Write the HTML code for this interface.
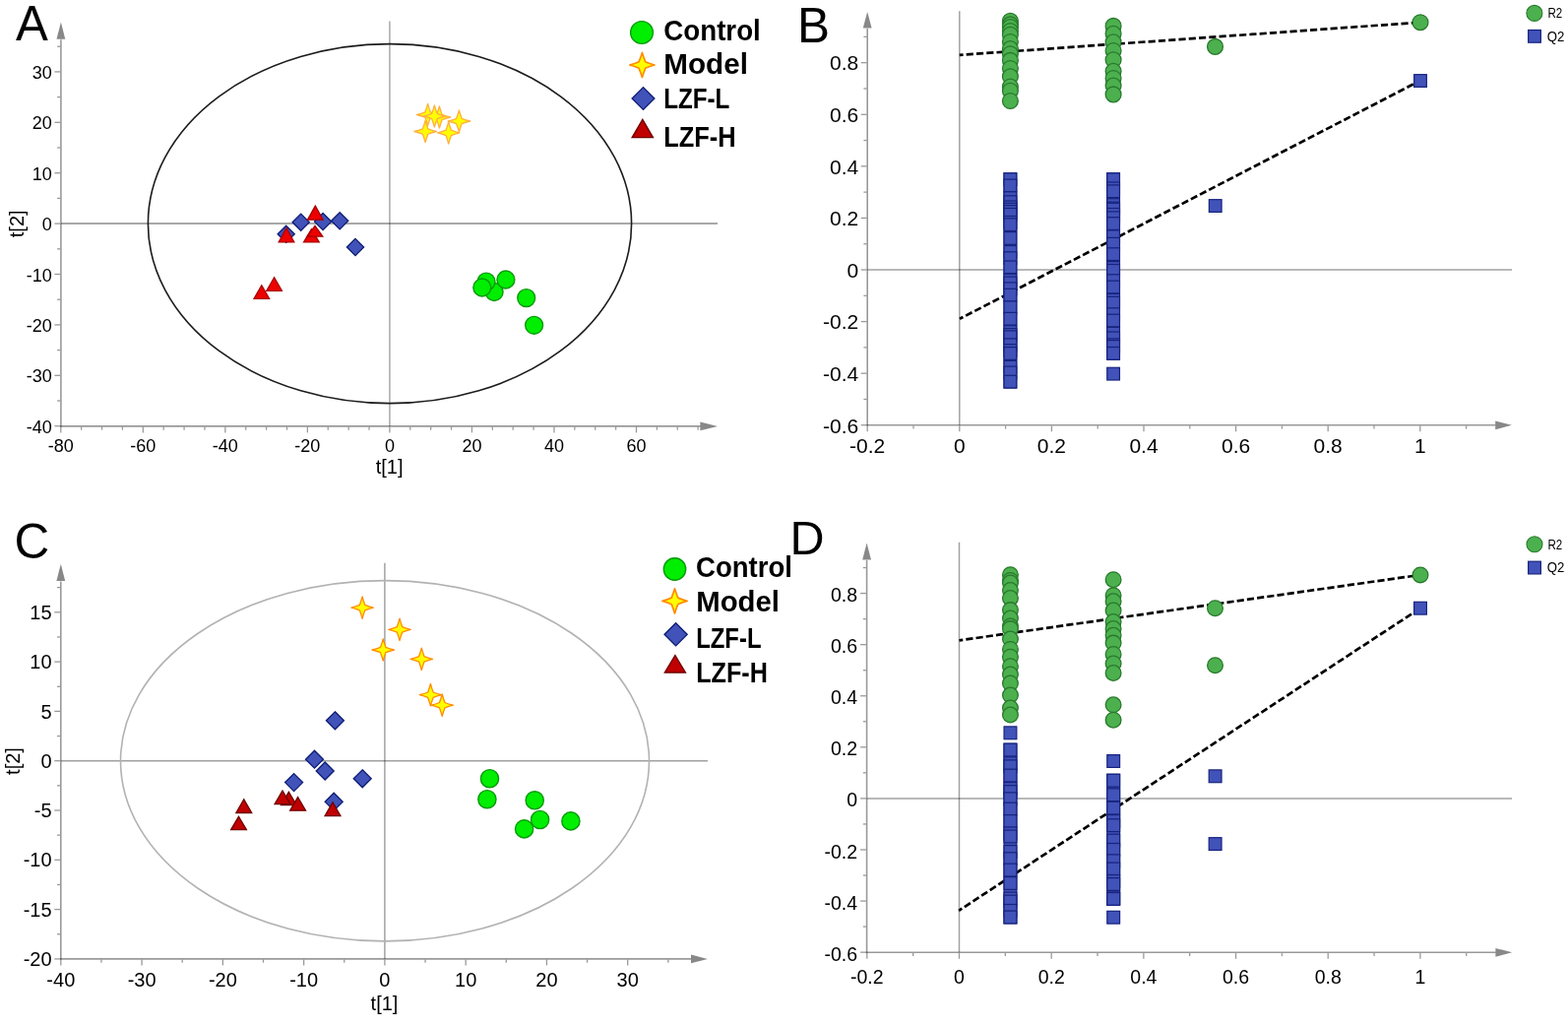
<!DOCTYPE html><html><head><meta charset="utf-8"><title>PCA and permutation plots</title>
<style>html,body{margin:0;padding:0;background:#fff;}svg{display:block;}text{font-family:'Liberation Sans', Arial, sans-serif;}</style></head><body>
<svg width="1593" height="1042" viewBox="0 0 1593 1042">
<rect width="1593" height="1042" fill="#fff"/>
<line x1="395.9" y1="21.5" x2="395.9" y2="432.9" stroke="#000" stroke-opacity="0.34" stroke-width="1.5" />
<line x1="61.9" y1="227.1" x2="729" y2="227.1" stroke="#000" stroke-opacity="0.45" stroke-width="1.5" />
<line x1="61.9" y1="433.7" x2="61.9" y2="40.3" stroke="#000" stroke-opacity="0.4" stroke-width="1.6" />
<line x1="61.1" y1="432.9" x2="711.9" y2="432.9" stroke="#000" stroke-opacity="0.4" stroke-width="1.6" />
<polygon points="57.5,39.8 66.3,39.8 61.9,22.5" fill="#888"/>
<polygon points="711.4,428.5 711.4,437.3 729,432.9" fill="#888"/>
<line x1="55.4" y1="432.7" x2="61.1" y2="432.7" stroke="#000" stroke-opacity="0.4" stroke-width="1.3" />
<line x1="55.4" y1="381.3" x2="61.1" y2="381.3" stroke="#000" stroke-opacity="0.4" stroke-width="1.3" />
<line x1="55.4" y1="329.9" x2="61.1" y2="329.9" stroke="#000" stroke-opacity="0.4" stroke-width="1.3" />
<line x1="55.4" y1="278.5" x2="61.1" y2="278.5" stroke="#000" stroke-opacity="0.4" stroke-width="1.3" />
<line x1="55.4" y1="227.1" x2="61.1" y2="227.1" stroke="#000" stroke-opacity="0.4" stroke-width="1.3" />
<line x1="55.4" y1="175.7" x2="61.1" y2="175.7" stroke="#000" stroke-opacity="0.4" stroke-width="1.3" />
<line x1="55.4" y1="124.3" x2="61.1" y2="124.3" stroke="#000" stroke-opacity="0.4" stroke-width="1.3" />
<line x1="55.4" y1="72.9" x2="61.1" y2="72.9" stroke="#000" stroke-opacity="0.4" stroke-width="1.3" />
<line x1="58.1" y1="407" x2="61.1" y2="407" stroke="#000" stroke-opacity="0.4" stroke-width="1.3" />
<line x1="58.1" y1="355.6" x2="61.1" y2="355.6" stroke="#000" stroke-opacity="0.4" stroke-width="1.3" />
<line x1="58.1" y1="304.2" x2="61.1" y2="304.2" stroke="#000" stroke-opacity="0.4" stroke-width="1.3" />
<line x1="58.1" y1="252.8" x2="61.1" y2="252.8" stroke="#000" stroke-opacity="0.4" stroke-width="1.3" />
<line x1="58.1" y1="201.4" x2="61.1" y2="201.4" stroke="#000" stroke-opacity="0.4" stroke-width="1.3" />
<line x1="58.1" y1="150" x2="61.1" y2="150" stroke="#000" stroke-opacity="0.4" stroke-width="1.3" />
<line x1="58.1" y1="98.6" x2="61.1" y2="98.6" stroke="#000" stroke-opacity="0.4" stroke-width="1.3" />
<line x1="58.1" y1="47.2" x2="61.1" y2="47.2" stroke="#000" stroke-opacity="0.4" stroke-width="1.3" />
<line x1="61.79" y1="433.7" x2="61.79" y2="439.4" stroke="#000" stroke-opacity="0.4" stroke-width="1.3" />
<line x1="145.32" y1="433.7" x2="145.32" y2="439.4" stroke="#000" stroke-opacity="0.4" stroke-width="1.3" />
<line x1="228.84" y1="433.7" x2="228.84" y2="439.4" stroke="#000" stroke-opacity="0.4" stroke-width="1.3" />
<line x1="312.37" y1="433.7" x2="312.37" y2="439.4" stroke="#000" stroke-opacity="0.4" stroke-width="1.3" />
<line x1="395.9" y1="433.7" x2="395.9" y2="439.4" stroke="#000" stroke-opacity="0.4" stroke-width="1.3" />
<line x1="479.43" y1="433.7" x2="479.43" y2="439.4" stroke="#000" stroke-opacity="0.4" stroke-width="1.3" />
<line x1="562.96" y1="433.7" x2="562.96" y2="439.4" stroke="#000" stroke-opacity="0.4" stroke-width="1.3" />
<line x1="646.48" y1="433.7" x2="646.48" y2="439.4" stroke="#000" stroke-opacity="0.4" stroke-width="1.3" />
<line x1="82.67" y1="433.7" x2="82.67" y2="436.7" stroke="#000" stroke-opacity="0.4" stroke-width="1.3" />
<line x1="103.55" y1="433.7" x2="103.55" y2="436.7" stroke="#000" stroke-opacity="0.4" stroke-width="1.3" />
<line x1="124.43" y1="433.7" x2="124.43" y2="436.7" stroke="#000" stroke-opacity="0.4" stroke-width="1.3" />
<line x1="166.2" y1="433.7" x2="166.2" y2="436.7" stroke="#000" stroke-opacity="0.4" stroke-width="1.3" />
<line x1="187.08" y1="433.7" x2="187.08" y2="436.7" stroke="#000" stroke-opacity="0.4" stroke-width="1.3" />
<line x1="207.96" y1="433.7" x2="207.96" y2="436.7" stroke="#000" stroke-opacity="0.4" stroke-width="1.3" />
<line x1="249.73" y1="433.7" x2="249.73" y2="436.7" stroke="#000" stroke-opacity="0.4" stroke-width="1.3" />
<line x1="270.61" y1="433.7" x2="270.61" y2="436.7" stroke="#000" stroke-opacity="0.4" stroke-width="1.3" />
<line x1="291.49" y1="433.7" x2="291.49" y2="436.7" stroke="#000" stroke-opacity="0.4" stroke-width="1.3" />
<line x1="333.25" y1="433.7" x2="333.25" y2="436.7" stroke="#000" stroke-opacity="0.4" stroke-width="1.3" />
<line x1="354.14" y1="433.7" x2="354.14" y2="436.7" stroke="#000" stroke-opacity="0.4" stroke-width="1.3" />
<line x1="375.02" y1="433.7" x2="375.02" y2="436.7" stroke="#000" stroke-opacity="0.4" stroke-width="1.3" />
<line x1="416.78" y1="433.7" x2="416.78" y2="436.7" stroke="#000" stroke-opacity="0.4" stroke-width="1.3" />
<line x1="437.66" y1="433.7" x2="437.66" y2="436.7" stroke="#000" stroke-opacity="0.4" stroke-width="1.3" />
<line x1="458.55" y1="433.7" x2="458.55" y2="436.7" stroke="#000" stroke-opacity="0.4" stroke-width="1.3" />
<line x1="500.31" y1="433.7" x2="500.31" y2="436.7" stroke="#000" stroke-opacity="0.4" stroke-width="1.3" />
<line x1="521.19" y1="433.7" x2="521.19" y2="436.7" stroke="#000" stroke-opacity="0.4" stroke-width="1.3" />
<line x1="542.07" y1="433.7" x2="542.07" y2="436.7" stroke="#000" stroke-opacity="0.4" stroke-width="1.3" />
<line x1="583.84" y1="433.7" x2="583.84" y2="436.7" stroke="#000" stroke-opacity="0.4" stroke-width="1.3" />
<line x1="604.72" y1="433.7" x2="604.72" y2="436.7" stroke="#000" stroke-opacity="0.4" stroke-width="1.3" />
<line x1="625.6" y1="433.7" x2="625.6" y2="436.7" stroke="#000" stroke-opacity="0.4" stroke-width="1.3" />
<line x1="667.37" y1="433.7" x2="667.37" y2="436.7" stroke="#000" stroke-opacity="0.4" stroke-width="1.3" />
<line x1="688.25" y1="433.7" x2="688.25" y2="436.7" stroke="#000" stroke-opacity="0.4" stroke-width="1.3" />
<line x1="709.13" y1="433.7" x2="709.13" y2="436.7" stroke="#000" stroke-opacity="0.4" stroke-width="1.3" />
<text x="52.8" y="439.79" font-size="18" text-anchor="end" font-weight="normal" fill="#000" >-40</text>
<text x="52.8" y="388.39" font-size="18" text-anchor="end" font-weight="normal" fill="#000" >-30</text>
<text x="52.8" y="336.99" font-size="18" text-anchor="end" font-weight="normal" fill="#000" >-20</text>
<text x="52.8" y="285.59" font-size="18" text-anchor="end" font-weight="normal" fill="#000" >-10</text>
<text x="52.8" y="234.19" font-size="18" text-anchor="end" font-weight="normal" fill="#000" >0</text>
<text x="52.8" y="182.79" font-size="18" text-anchor="end" font-weight="normal" fill="#000" >10</text>
<text x="52.8" y="131.39" font-size="18" text-anchor="end" font-weight="normal" fill="#000" >20</text>
<text x="52.8" y="79.99" font-size="18" text-anchor="end" font-weight="normal" fill="#000" >30</text>
<text x="61.79" y="458.6" font-size="18" text-anchor="middle" font-weight="normal" fill="#000" >-80</text>
<text x="145.32" y="458.6" font-size="18" text-anchor="middle" font-weight="normal" fill="#000" >-60</text>
<text x="228.84" y="458.6" font-size="18" text-anchor="middle" font-weight="normal" fill="#000" >-40</text>
<text x="312.37" y="458.6" font-size="18" text-anchor="middle" font-weight="normal" fill="#000" >-20</text>
<text x="395.9" y="458.6" font-size="18" text-anchor="middle" font-weight="normal" fill="#000" >0</text>
<text x="479.43" y="458.6" font-size="18" text-anchor="middle" font-weight="normal" fill="#000" >20</text>
<text x="562.96" y="458.6" font-size="18" text-anchor="middle" font-weight="normal" fill="#000" >40</text>
<text x="646.48" y="458.6" font-size="18" text-anchor="middle" font-weight="normal" fill="#000" >60</text>
<ellipse cx="396" cy="227.1" rx="245.6" ry="182.5" fill="none" stroke="#1c1c1c" stroke-width="1.6"/>
<text x="16.1" y="40.5" font-size="49.2" text-anchor="start" font-weight="normal" fill="#000" >A</text>
<text x="395.6" y="480.9" font-size="20" text-anchor="middle" font-weight="normal" fill="#000" >t[1]</text>
<text x="0" y="0" font-size="20" text-anchor="middle" transform="translate(24.1,227.3) rotate(-90)">t[2]</text>
<polygon points="290.7,229.2 299.3,237.8 290.7,246.4 282.1,237.8" fill="#4152B8" stroke="#0E1C74" stroke-width="1.3"/>
<polygon points="305.7,217.1 314.3,225.7 305.7,234.3 297.1,225.7" fill="#4152B8" stroke="#0E1C74" stroke-width="1.3"/>
<polygon points="328.1,216.5 336.7,225.1 328.1,233.7 319.5,225.1" fill="#4152B8" stroke="#0E1C74" stroke-width="1.3"/>
<polygon points="345.2,215.7 353.8,224.3 345.2,232.9 336.6,224.3" fill="#4152B8" stroke="#0E1C74" stroke-width="1.3"/>
<polygon points="361,242.4 369.6,251 361,259.6 352.4,251" fill="#4152B8" stroke="#0E1C74" stroke-width="1.3"/>
<polygon points="320.3,209.1 328.1,223.2 312.5,223.2" fill="#EE0000" stroke="#A80000" stroke-width="1.3" stroke-linejoin="miter"/>
<polygon points="291,231.6 298.8,245.9 283.2,245.9" fill="#EE0000" stroke="#A80000" stroke-width="1.3" stroke-linejoin="miter"/>
<polygon points="316.4,232.7 324.2,245.9 308.6,245.9" fill="#EE0000" stroke="#A80000" stroke-width="1.3" stroke-linejoin="miter"/>
<polygon points="320,229.3 327.8,240.1 312.2,240.1" fill="#EE0000" stroke="#A80000" stroke-width="1.3" stroke-linejoin="miter"/>
<polygon points="278.6,281.7 286.4,295.4 270.8,295.4" fill="#EE0000" stroke="#A80000" stroke-width="1.3" stroke-linejoin="miter"/>
<polygon points="265.8,289.7 273.6,303.4 258,303.4" fill="#EE0000" stroke="#A80000" stroke-width="1.3" stroke-linejoin="miter"/>
<path d="M434.6,105.3 Q435.85,110.04 437.3,113.8 Q441.06,115.25 445.8,116.5 Q441.06,117.75 437.3,119.2 Q435.85,122.96 434.6,127.7 Q433.35,122.96 431.9,119.2 Q428.14,117.75 423.4,116.5 Q428.14,115.25 431.9,113.8 Q433.35,110.04 434.6,105.3Z" fill="#FFFF00" stroke="#FFB040" stroke-width="1.3" stroke-linejoin="round"/>
<path d="M446.4,107.8 Q447.65,112.54 449.1,116.3 Q452.86,117.75 457.6,119 Q452.86,120.25 449.1,121.7 Q447.65,125.46 446.4,130.2 Q445.15,125.46 443.7,121.7 Q439.94,120.25 435.2,119 Q439.94,117.75 443.7,116.3 Q445.15,112.54 446.4,107.8Z" fill="#FFFF00" stroke="#FFB040" stroke-width="1.3" stroke-linejoin="round"/>
<path d="M441.4,106.8 Q442.65,111.54 444.1,115.3 Q447.86,116.75 452.6,118 Q447.86,119.25 444.1,120.7 Q442.65,124.46 441.4,129.2 Q440.15,124.46 438.7,120.7 Q434.94,119.25 430.2,118 Q434.94,116.75 438.7,115.3 Q440.15,111.54 441.4,106.8Z" fill="#FFFF00" stroke="#FFB040" stroke-width="1.3" stroke-linejoin="round"/>
<path d="M466.4,111.8 Q467.65,116.54 469.1,120.3 Q472.86,121.75 477.6,123 Q472.86,124.25 469.1,125.7 Q467.65,129.46 466.4,134.2 Q465.15,129.46 463.7,125.7 Q459.94,124.25 455.2,123 Q459.94,121.75 463.7,120.3 Q465.15,116.54 466.4,111.8Z" fill="#FFFF00" stroke="#FFB040" stroke-width="1.3" stroke-linejoin="round"/>
<path d="M432.1,122.3 Q433.35,127.04 434.8,130.8 Q438.56,132.25 443.3,133.5 Q438.56,134.75 434.8,136.2 Q433.35,139.96 432.1,144.7 Q430.85,139.96 429.4,136.2 Q425.64,134.75 420.9,133.5 Q425.64,132.25 429.4,130.8 Q430.85,127.04 432.1,122.3Z" fill="#FFFF00" stroke="#FFB040" stroke-width="1.3" stroke-linejoin="round"/>
<path d="M455.7,123.7 Q456.95,128.44 458.4,132.2 Q462.16,133.65 466.9,134.9 Q462.16,136.15 458.4,137.6 Q456.95,141.36 455.7,146.1 Q454.45,141.36 453,137.6 Q449.24,136.15 444.5,134.9 Q449.24,133.65 453,132.2 Q454.45,128.44 455.7,123.7Z" fill="#FFFF00" stroke="#FFB040" stroke-width="1.3" stroke-linejoin="round"/>
<circle cx="502.1" cy="296.5" r="8.95" fill="#00EE00" stroke="#079A07" stroke-width="1.4"/>
<circle cx="494" cy="286.1" r="8.95" fill="#00EE00" stroke="#079A07" stroke-width="1.4"/>
<circle cx="513.9" cy="284" r="8.95" fill="#00EE00" stroke="#079A07" stroke-width="1.4"/>
<circle cx="489.8" cy="292" r="8.95" fill="#00EE00" stroke="#079A07" stroke-width="1.4"/>
<circle cx="534.7" cy="302.6" r="8.95" fill="#00EE00" stroke="#079A07" stroke-width="1.4"/>
<circle cx="542.6" cy="330.3" r="8.95" fill="#00EE00" stroke="#079A07" stroke-width="1.4"/>
<circle cx="652" cy="33" r="11.4" fill="#00EE00" stroke="#079A07" stroke-width="1.4"/>
<path d="M652.4,53.4 Q653.93,58.64 655.7,62.7 Q659.76,64.47 665,66 Q659.76,67.53 655.7,69.3 Q653.93,73.36 652.4,78.6 Q650.87,73.36 649.1,69.3 Q645.04,67.53 639.8,66 Q645.04,64.47 649.1,62.7 Q650.87,58.64 652.4,53.4Z" fill="#FFFF00" stroke="#FF8C00" stroke-width="1.7" stroke-linejoin="round"/>
<polygon points="653.5,88.6 664.9,100 653.5,111.4 642.1,100" fill="#4152B8" stroke="#0E1C74" stroke-width="1.3"/>
<polygon points="652.8,121.4 663.4,139.6 642.2,139.6" fill="#C00000" stroke="#6E0000" stroke-width="1.4" stroke-linejoin="miter"/>
<text x="674.29" y="40.5" font-size="29" text-anchor="start" font-weight="bold" fill="#000" textLength="98.5" lengthAdjust="spacingAndGlyphs">Control</text>
<text x="674.3" y="74.8" font-size="29" text-anchor="start" font-weight="bold" fill="#000" textLength="85.6" lengthAdjust="spacingAndGlyphs">Model</text>
<text x="674.2" y="109.7" font-size="29" text-anchor="start" font-weight="bold" fill="#000" textLength="67.2" lengthAdjust="spacingAndGlyphs">LZF-L</text>
<text x="674.2" y="149" font-size="29" text-anchor="start" font-weight="bold" fill="#000" textLength="73.5" lengthAdjust="spacingAndGlyphs">LZF-H</text>
<line x1="974.8" y1="11.3" x2="974.8" y2="431.8" stroke="#000" stroke-opacity="0.37" stroke-width="1.5" />
<line x1="881.2" y1="274" x2="1536" y2="274" stroke="#000" stroke-opacity="0.37" stroke-width="1.5" />
<line x1="881.2" y1="432.6" x2="881.2" y2="29.1" stroke="#000" stroke-opacity="0.4" stroke-width="1.6" />
<line x1="880.4" y1="431.8" x2="1519.7" y2="431.8" stroke="#000" stroke-opacity="0.4" stroke-width="1.6" />
<polygon points="876.8,28.6 885.6,28.6 881.2,11.9" fill="#888"/>
<polygon points="1519.2,427.4 1519.2,436.2 1535.9,431.8" fill="#888"/>
<line x1="874.7" y1="431.74" x2="880.4" y2="431.74" stroke="#000" stroke-opacity="0.4" stroke-width="1.3" />
<line x1="874.7" y1="379.16" x2="880.4" y2="379.16" stroke="#000" stroke-opacity="0.4" stroke-width="1.3" />
<line x1="874.7" y1="326.58" x2="880.4" y2="326.58" stroke="#000" stroke-opacity="0.4" stroke-width="1.3" />
<line x1="874.7" y1="274" x2="880.4" y2="274" stroke="#000" stroke-opacity="0.4" stroke-width="1.3" />
<line x1="874.7" y1="221.42" x2="880.4" y2="221.42" stroke="#000" stroke-opacity="0.4" stroke-width="1.3" />
<line x1="874.7" y1="168.84" x2="880.4" y2="168.84" stroke="#000" stroke-opacity="0.4" stroke-width="1.3" />
<line x1="874.7" y1="116.26" x2="880.4" y2="116.26" stroke="#000" stroke-opacity="0.4" stroke-width="1.3" />
<line x1="874.7" y1="63.68" x2="880.4" y2="63.68" stroke="#000" stroke-opacity="0.4" stroke-width="1.3" />
<line x1="877.4" y1="405.45" x2="880.4" y2="405.45" stroke="#000" stroke-opacity="0.4" stroke-width="1.3" />
<line x1="877.4" y1="352.87" x2="880.4" y2="352.87" stroke="#000" stroke-opacity="0.4" stroke-width="1.3" />
<line x1="877.4" y1="300.29" x2="880.4" y2="300.29" stroke="#000" stroke-opacity="0.4" stroke-width="1.3" />
<line x1="877.4" y1="247.71" x2="880.4" y2="247.71" stroke="#000" stroke-opacity="0.4" stroke-width="1.3" />
<line x1="877.4" y1="195.13" x2="880.4" y2="195.13" stroke="#000" stroke-opacity="0.4" stroke-width="1.3" />
<line x1="877.4" y1="142.55" x2="880.4" y2="142.55" stroke="#000" stroke-opacity="0.4" stroke-width="1.3" />
<line x1="877.4" y1="89.97" x2="880.4" y2="89.97" stroke="#000" stroke-opacity="0.4" stroke-width="1.3" />
<line x1="877.4" y1="37.39" x2="880.4" y2="37.39" stroke="#000" stroke-opacity="0.4" stroke-width="1.3" />
<line x1="881.2" y1="432.6" x2="881.2" y2="438.3" stroke="#000" stroke-opacity="0.4" stroke-width="1.3" />
<line x1="974.8" y1="432.6" x2="974.8" y2="438.3" stroke="#000" stroke-opacity="0.4" stroke-width="1.3" />
<line x1="1068.4" y1="432.6" x2="1068.4" y2="438.3" stroke="#000" stroke-opacity="0.4" stroke-width="1.3" />
<line x1="1162" y1="432.6" x2="1162" y2="438.3" stroke="#000" stroke-opacity="0.4" stroke-width="1.3" />
<line x1="1255.6" y1="432.6" x2="1255.6" y2="438.3" stroke="#000" stroke-opacity="0.4" stroke-width="1.3" />
<line x1="1349.2" y1="432.6" x2="1349.2" y2="438.3" stroke="#000" stroke-opacity="0.4" stroke-width="1.3" />
<line x1="1442.8" y1="432.6" x2="1442.8" y2="438.3" stroke="#000" stroke-opacity="0.4" stroke-width="1.3" />
<line x1="928" y1="432.6" x2="928" y2="435.6" stroke="#000" stroke-opacity="0.4" stroke-width="1.3" />
<line x1="1021.6" y1="432.6" x2="1021.6" y2="435.6" stroke="#000" stroke-opacity="0.4" stroke-width="1.3" />
<line x1="1115.2" y1="432.6" x2="1115.2" y2="435.6" stroke="#000" stroke-opacity="0.4" stroke-width="1.3" />
<line x1="1208.8" y1="432.6" x2="1208.8" y2="435.6" stroke="#000" stroke-opacity="0.4" stroke-width="1.3" />
<line x1="1302.4" y1="432.6" x2="1302.4" y2="435.6" stroke="#000" stroke-opacity="0.4" stroke-width="1.3" />
<line x1="1396" y1="432.6" x2="1396" y2="435.6" stroke="#000" stroke-opacity="0.4" stroke-width="1.3" />
<line x1="1489.6" y1="432.6" x2="1489.6" y2="435.6" stroke="#000" stroke-opacity="0.4" stroke-width="1.3" />
<text x="872.2" y="439.5" font-size="21" text-anchor="end" font-weight="normal" fill="#000" >-0.6</text>
<text x="872.2" y="386.91" font-size="21" text-anchor="end" font-weight="normal" fill="#000" >-0.4</text>
<text x="872.2" y="334.33" font-size="21" text-anchor="end" font-weight="normal" fill="#000" >-0.2</text>
<text x="872.2" y="281.75" font-size="21" text-anchor="end" font-weight="normal" fill="#000" >0</text>
<text x="872.2" y="229.18" font-size="21" text-anchor="end" font-weight="normal" fill="#000" >0.2</text>
<text x="872.2" y="176.6" font-size="21" text-anchor="end" font-weight="normal" fill="#000" >0.4</text>
<text x="872.2" y="124.02" font-size="21" text-anchor="end" font-weight="normal" fill="#000" >0.6</text>
<text x="872.2" y="71.44" font-size="21" text-anchor="end" font-weight="normal" fill="#000" >0.8</text>
<text x="881.2" y="460.4" font-size="21" text-anchor="middle" font-weight="normal" fill="#000" >-0.2</text>
<text x="974.8" y="460.4" font-size="21" text-anchor="middle" font-weight="normal" fill="#000" >0</text>
<text x="1068.4" y="460.4" font-size="21" text-anchor="middle" font-weight="normal" fill="#000" >0.2</text>
<text x="1162" y="460.4" font-size="21" text-anchor="middle" font-weight="normal" fill="#000" >0.4</text>
<text x="1255.6" y="460.4" font-size="21" text-anchor="middle" font-weight="normal" fill="#000" >0.6</text>
<text x="1349.2" y="460.4" font-size="21" text-anchor="middle" font-weight="normal" fill="#000" >0.8</text>
<text x="1442.8" y="460.4" font-size="21" text-anchor="middle" font-weight="normal" fill="#000" >1</text>
<text x="810" y="42.5" font-size="49.5" text-anchor="start" font-weight="normal" fill="#000" >B</text>
<line x1="974.8" y1="55.9" x2="1443" y2="22.7" stroke="#000" stroke-width="2.7" stroke-dasharray="7.2 3.1" stroke-dashoffset="3.4"/>
<line x1="975" y1="323.8" x2="1443" y2="81.8" stroke="#000" stroke-width="2.7" stroke-dasharray="7.2 3.1" stroke-dashoffset="3.4"/>
<circle cx="1026.4" cy="21.3" r="7.9" fill="#4CB04F" stroke="#287A2B" stroke-width="1.3"/>
<circle cx="1026.4" cy="24.9" r="7.9" fill="#4CB04F" stroke="#287A2B" stroke-width="1.3"/>
<circle cx="1026.4" cy="27.5" r="7.9" fill="#4CB04F" stroke="#287A2B" stroke-width="1.3"/>
<circle cx="1026.4" cy="31.6" r="7.9" fill="#4CB04F" stroke="#287A2B" stroke-width="1.3"/>
<circle cx="1026.4" cy="35.2" r="7.9" fill="#4CB04F" stroke="#287A2B" stroke-width="1.3"/>
<circle cx="1026.4" cy="42.5" r="7.9" fill="#4CB04F" stroke="#287A2B" stroke-width="1.3"/>
<circle cx="1026.4" cy="49.6" r="7.9" fill="#4CB04F" stroke="#287A2B" stroke-width="1.3"/>
<circle cx="1026.4" cy="54.7" r="7.9" fill="#4CB04F" stroke="#287A2B" stroke-width="1.3"/>
<circle cx="1026.4" cy="61.4" r="7.9" fill="#4CB04F" stroke="#287A2B" stroke-width="1.3"/>
<circle cx="1026.4" cy="69.5" r="7.9" fill="#4CB04F" stroke="#287A2B" stroke-width="1.3"/>
<circle cx="1026.4" cy="77.8" r="7.9" fill="#4CB04F" stroke="#287A2B" stroke-width="1.3"/>
<circle cx="1026.4" cy="88.1" r="7.9" fill="#4CB04F" stroke="#287A2B" stroke-width="1.3"/>
<circle cx="1026.4" cy="92.2" r="7.9" fill="#4CB04F" stroke="#287A2B" stroke-width="1.3"/>
<circle cx="1026.4" cy="102.5" r="7.9" fill="#4CB04F" stroke="#287A2B" stroke-width="1.3"/>
<circle cx="1131.1" cy="26.4" r="7.9" fill="#4CB04F" stroke="#287A2B" stroke-width="1.3"/>
<circle cx="1131.1" cy="34.3" r="7.9" fill="#4CB04F" stroke="#287A2B" stroke-width="1.3"/>
<circle cx="1131.1" cy="42.8" r="7.9" fill="#4CB04F" stroke="#287A2B" stroke-width="1.3"/>
<circle cx="1131.1" cy="51.5" r="7.9" fill="#4CB04F" stroke="#287A2B" stroke-width="1.3"/>
<circle cx="1131.1" cy="60.7" r="7.9" fill="#4CB04F" stroke="#287A2B" stroke-width="1.3"/>
<circle cx="1131.1" cy="72.3" r="7.9" fill="#4CB04F" stroke="#287A2B" stroke-width="1.3"/>
<circle cx="1131.1" cy="79.5" r="7.9" fill="#4CB04F" stroke="#287A2B" stroke-width="1.3"/>
<circle cx="1131.1" cy="87.1" r="7.9" fill="#4CB04F" stroke="#287A2B" stroke-width="1.3"/>
<circle cx="1131.1" cy="95.9" r="7.9" fill="#4CB04F" stroke="#287A2B" stroke-width="1.3"/>
<circle cx="1234.5" cy="47.4" r="7.9" fill="#4CB04F" stroke="#287A2B" stroke-width="1.3"/>
<circle cx="1443" cy="22.7" r="7.9" fill="#4CB04F" stroke="#287A2B" stroke-width="1.3"/>
<rect x="1020.05" y="175.8" width="12.7" height="218.2" fill="#4152B8" stroke="#16237E" stroke-width="1.2"/>
<rect x="1020.05" y="175.8" width="12.7" height="12.7" fill="#4152B8" stroke="#16237E" stroke-width="1.2"/>
<rect x="1020.05" y="182.1" width="12.7" height="12.7" fill="#4152B8" stroke="#16237E" stroke-width="1.2"/>
<rect x="1020.05" y="194.8" width="12.7" height="12.7" fill="#4152B8" stroke="#16237E" stroke-width="1.2"/>
<rect x="1020.05" y="198.8" width="12.7" height="12.7" fill="#4152B8" stroke="#16237E" stroke-width="1.2"/>
<rect x="1020.05" y="204" width="12.7" height="12.7" fill="#4152B8" stroke="#16237E" stroke-width="1.2"/>
<rect x="1020.05" y="206.3" width="12.7" height="12.7" fill="#4152B8" stroke="#16237E" stroke-width="1.2"/>
<rect x="1020.05" y="208.6" width="12.7" height="12.7" fill="#4152B8" stroke="#16237E" stroke-width="1.2"/>
<rect x="1020.05" y="211.5" width="12.7" height="12.7" fill="#4152B8" stroke="#16237E" stroke-width="1.2"/>
<rect x="1020.05" y="219.5" width="12.7" height="12.7" fill="#4152B8" stroke="#16237E" stroke-width="1.2"/>
<rect x="1020.05" y="221.8" width="12.7" height="12.7" fill="#4152B8" stroke="#16237E" stroke-width="1.2"/>
<rect x="1020.05" y="235.6" width="12.7" height="12.7" fill="#4152B8" stroke="#16237E" stroke-width="1.2"/>
<rect x="1020.05" y="249.5" width="12.7" height="12.7" fill="#4152B8" stroke="#16237E" stroke-width="1.2"/>
<rect x="1020.05" y="255.8" width="12.7" height="12.7" fill="#4152B8" stroke="#16237E" stroke-width="1.2"/>
<rect x="1020.05" y="265" width="12.7" height="12.7" fill="#4152B8" stroke="#16237E" stroke-width="1.2"/>
<rect x="1020.05" y="278.2" width="12.7" height="12.7" fill="#4152B8" stroke="#16237E" stroke-width="1.2"/>
<rect x="1020.05" y="281.1" width="12.7" height="12.7" fill="#4152B8" stroke="#16237E" stroke-width="1.2"/>
<rect x="1020.05" y="286.9" width="12.7" height="12.7" fill="#4152B8" stroke="#16237E" stroke-width="1.2"/>
<rect x="1020.05" y="293.3" width="12.7" height="12.7" fill="#4152B8" stroke="#16237E" stroke-width="1.2"/>
<rect x="1020.05" y="305.9" width="12.7" height="12.7" fill="#4152B8" stroke="#16237E" stroke-width="1.2"/>
<rect x="1020.05" y="317.4" width="12.7" height="12.7" fill="#4152B8" stroke="#16237E" stroke-width="1.2"/>
<rect x="1020.05" y="330.7" width="12.7" height="12.7" fill="#4152B8" stroke="#16237E" stroke-width="1.2"/>
<rect x="1020.05" y="333.6" width="12.7" height="12.7" fill="#4152B8" stroke="#16237E" stroke-width="1.2"/>
<rect x="1020.05" y="335.9" width="12.7" height="12.7" fill="#4152B8" stroke="#16237E" stroke-width="1.2"/>
<rect x="1020.05" y="343.9" width="12.7" height="12.7" fill="#4152B8" stroke="#16237E" stroke-width="1.2"/>
<rect x="1020.05" y="349.7" width="12.7" height="12.7" fill="#4152B8" stroke="#16237E" stroke-width="1.2"/>
<rect x="1020.05" y="352.6" width="12.7" height="12.7" fill="#4152B8" stroke="#16237E" stroke-width="1.2"/>
<rect x="1020.05" y="366.4" width="12.7" height="12.7" fill="#4152B8" stroke="#16237E" stroke-width="1.2"/>
<rect x="1020.05" y="372.1" width="12.7" height="12.7" fill="#4152B8" stroke="#16237E" stroke-width="1.2"/>
<rect x="1020.05" y="381.3" width="12.7" height="12.7" fill="#4152B8" stroke="#16237E" stroke-width="1.2"/>
<rect x="1124.75" y="175.8" width="12.7" height="189.4" fill="#4152B8" stroke="#16237E" stroke-width="1.2"/>
<rect x="1124.75" y="175.8" width="12.7" height="12.7" fill="#4152B8" stroke="#16237E" stroke-width="1.2"/>
<rect x="1124.75" y="185" width="12.7" height="12.7" fill="#4152B8" stroke="#16237E" stroke-width="1.2"/>
<rect x="1124.75" y="187.9" width="12.7" height="12.7" fill="#4152B8" stroke="#16237E" stroke-width="1.2"/>
<rect x="1124.75" y="201.7" width="12.7" height="12.7" fill="#4152B8" stroke="#16237E" stroke-width="1.2"/>
<rect x="1124.75" y="205.1" width="12.7" height="12.7" fill="#4152B8" stroke="#16237E" stroke-width="1.2"/>
<rect x="1124.75" y="206.3" width="12.7" height="12.7" fill="#4152B8" stroke="#16237E" stroke-width="1.2"/>
<rect x="1124.75" y="211.5" width="12.7" height="12.7" fill="#4152B8" stroke="#16237E" stroke-width="1.2"/>
<rect x="1124.75" y="214.9" width="12.7" height="12.7" fill="#4152B8" stroke="#16237E" stroke-width="1.2"/>
<rect x="1124.75" y="220.7" width="12.7" height="12.7" fill="#4152B8" stroke="#16237E" stroke-width="1.2"/>
<rect x="1124.75" y="233.9" width="12.7" height="12.7" fill="#4152B8" stroke="#16237E" stroke-width="1.2"/>
<rect x="1124.75" y="241.4" width="12.7" height="12.7" fill="#4152B8" stroke="#16237E" stroke-width="1.2"/>
<rect x="1124.75" y="251.8" width="12.7" height="12.7" fill="#4152B8" stroke="#16237E" stroke-width="1.2"/>
<rect x="1124.75" y="265.6" width="12.7" height="12.7" fill="#4152B8" stroke="#16237E" stroke-width="1.2"/>
<rect x="1124.75" y="268.5" width="12.7" height="12.7" fill="#4152B8" stroke="#16237E" stroke-width="1.2"/>
<rect x="1124.75" y="278.8" width="12.7" height="12.7" fill="#4152B8" stroke="#16237E" stroke-width="1.2"/>
<rect x="1124.75" y="285.2" width="12.7" height="12.7" fill="#4152B8" stroke="#16237E" stroke-width="1.2"/>
<rect x="1124.75" y="298.4" width="12.7" height="12.7" fill="#4152B8" stroke="#16237E" stroke-width="1.2"/>
<rect x="1124.75" y="301.3" width="12.7" height="12.7" fill="#4152B8" stroke="#16237E" stroke-width="1.2"/>
<rect x="1124.75" y="312.8" width="12.7" height="12.7" fill="#4152B8" stroke="#16237E" stroke-width="1.2"/>
<rect x="1124.75" y="319.2" width="12.7" height="12.7" fill="#4152B8" stroke="#16237E" stroke-width="1.2"/>
<rect x="1124.75" y="332.4" width="12.7" height="12.7" fill="#4152B8" stroke="#16237E" stroke-width="1.2"/>
<rect x="1124.75" y="337" width="12.7" height="12.7" fill="#4152B8" stroke="#16237E" stroke-width="1.2"/>
<rect x="1124.75" y="343.9" width="12.7" height="12.7" fill="#4152B8" stroke="#16237E" stroke-width="1.2"/>
<rect x="1124.75" y="345.6" width="12.7" height="12.7" fill="#4152B8" stroke="#16237E" stroke-width="1.2"/>
<rect x="1124.75" y="352.5" width="12.7" height="12.7" fill="#4152B8" stroke="#16237E" stroke-width="1.2"/>
<rect x="1124.75" y="373.3" width="12.7" height="12.7" fill="#4152B8" stroke="#16237E" stroke-width="1.2"/>
<rect x="1228.35" y="202.7" width="12.7" height="12.7" fill="#4152B8" stroke="#16237E" stroke-width="1.2"/>
<rect x="1436.65" y="75.7" width="12.7" height="12.7" fill="#4152B8" stroke="#16237E" stroke-width="1.2"/>
<circle cx="1558.9" cy="13.4" r="8" fill="#4CB04F" stroke="#287A2B" stroke-width="1.1"/>
<rect x="1552.65" y="30.5" width="12.7" height="12.7" fill="#4152B8" stroke="#16237E" stroke-width="1.2"/>
<text x="1572.4" y="18.3" font-size="14.5" text-anchor="start" font-weight="normal" fill="#000" textLength="14.8" lengthAdjust="spacingAndGlyphs">R2</text>
<text x="1571.8" y="41.8" font-size="14.5" text-anchor="start" font-weight="normal" fill="#000" textLength="17.6" lengthAdjust="spacingAndGlyphs">Q2</text>
<line x1="390.9" y1="571.7" x2="390.9" y2="973.9" stroke="#000" stroke-opacity="0.37" stroke-width="1.5" />
<line x1="61.8" y1="772.7" x2="719" y2="772.7" stroke="#000" stroke-opacity="0.37" stroke-width="1.5" />
<line x1="61.8" y1="974.7" x2="61.8" y2="590.5" stroke="#000" stroke-opacity="0.4" stroke-width="1.6" />
<line x1="61" y1="973.9" x2="702.5" y2="973.9" stroke="#000" stroke-opacity="0.4" stroke-width="1.6" />
<polygon points="57.4,590 66.2,590 61.8,572.8" fill="#888"/>
<polygon points="702,969.5 702,978.3 718.9,973.9" fill="#888"/>
<line x1="55.3" y1="973.9" x2="61" y2="973.9" stroke="#000" stroke-opacity="0.4" stroke-width="1.3" />
<line x1="55.3" y1="923.6" x2="61" y2="923.6" stroke="#000" stroke-opacity="0.4" stroke-width="1.3" />
<line x1="55.3" y1="873.3" x2="61" y2="873.3" stroke="#000" stroke-opacity="0.4" stroke-width="1.3" />
<line x1="55.3" y1="823" x2="61" y2="823" stroke="#000" stroke-opacity="0.4" stroke-width="1.3" />
<line x1="55.3" y1="772.7" x2="61" y2="772.7" stroke="#000" stroke-opacity="0.4" stroke-width="1.3" />
<line x1="55.3" y1="722.4" x2="61" y2="722.4" stroke="#000" stroke-opacity="0.4" stroke-width="1.3" />
<line x1="55.3" y1="672.1" x2="61" y2="672.1" stroke="#000" stroke-opacity="0.4" stroke-width="1.3" />
<line x1="55.3" y1="621.8" x2="61" y2="621.8" stroke="#000" stroke-opacity="0.4" stroke-width="1.3" />
<line x1="58" y1="948.75" x2="61" y2="948.75" stroke="#000" stroke-opacity="0.4" stroke-width="1.3" />
<line x1="58" y1="898.45" x2="61" y2="898.45" stroke="#000" stroke-opacity="0.4" stroke-width="1.3" />
<line x1="58" y1="848.15" x2="61" y2="848.15" stroke="#000" stroke-opacity="0.4" stroke-width="1.3" />
<line x1="58" y1="797.85" x2="61" y2="797.85" stroke="#000" stroke-opacity="0.4" stroke-width="1.3" />
<line x1="58" y1="747.55" x2="61" y2="747.55" stroke="#000" stroke-opacity="0.4" stroke-width="1.3" />
<line x1="58" y1="697.25" x2="61" y2="697.25" stroke="#000" stroke-opacity="0.4" stroke-width="1.3" />
<line x1="58" y1="646.95" x2="61" y2="646.95" stroke="#000" stroke-opacity="0.4" stroke-width="1.3" />
<line x1="58" y1="596.65" x2="61" y2="596.65" stroke="#000" stroke-opacity="0.4" stroke-width="1.3" />
<line x1="61.82" y1="974.7" x2="61.82" y2="980.4" stroke="#000" stroke-opacity="0.4" stroke-width="1.3" />
<line x1="144.09" y1="974.7" x2="144.09" y2="980.4" stroke="#000" stroke-opacity="0.4" stroke-width="1.3" />
<line x1="226.36" y1="974.7" x2="226.36" y2="980.4" stroke="#000" stroke-opacity="0.4" stroke-width="1.3" />
<line x1="308.63" y1="974.7" x2="308.63" y2="980.4" stroke="#000" stroke-opacity="0.4" stroke-width="1.3" />
<line x1="390.9" y1="974.7" x2="390.9" y2="980.4" stroke="#000" stroke-opacity="0.4" stroke-width="1.3" />
<line x1="473.17" y1="974.7" x2="473.17" y2="980.4" stroke="#000" stroke-opacity="0.4" stroke-width="1.3" />
<line x1="555.44" y1="974.7" x2="555.44" y2="980.4" stroke="#000" stroke-opacity="0.4" stroke-width="1.3" />
<line x1="637.71" y1="974.7" x2="637.71" y2="980.4" stroke="#000" stroke-opacity="0.4" stroke-width="1.3" />
<line x1="102.95" y1="974.7" x2="102.95" y2="977.7" stroke="#000" stroke-opacity="0.4" stroke-width="1.3" />
<line x1="185.22" y1="974.7" x2="185.22" y2="977.7" stroke="#000" stroke-opacity="0.4" stroke-width="1.3" />
<line x1="267.5" y1="974.7" x2="267.5" y2="977.7" stroke="#000" stroke-opacity="0.4" stroke-width="1.3" />
<line x1="349.76" y1="974.7" x2="349.76" y2="977.7" stroke="#000" stroke-opacity="0.4" stroke-width="1.3" />
<line x1="432.03" y1="974.7" x2="432.03" y2="977.7" stroke="#000" stroke-opacity="0.4" stroke-width="1.3" />
<line x1="514.3" y1="974.7" x2="514.3" y2="977.7" stroke="#000" stroke-opacity="0.4" stroke-width="1.3" />
<line x1="596.58" y1="974.7" x2="596.58" y2="977.7" stroke="#000" stroke-opacity="0.4" stroke-width="1.3" />
<line x1="678.85" y1="974.7" x2="678.85" y2="977.7" stroke="#000" stroke-opacity="0.4" stroke-width="1.3" />
<text x="52.6" y="981" font-size="20" text-anchor="end" font-weight="normal" fill="#000" >-20</text>
<text x="52.6" y="930.7" font-size="20" text-anchor="end" font-weight="normal" fill="#000" >-15</text>
<text x="52.6" y="880.4" font-size="20" text-anchor="end" font-weight="normal" fill="#000" >-10</text>
<text x="52.6" y="830.1" font-size="20" text-anchor="end" font-weight="normal" fill="#000" >-5</text>
<text x="52.6" y="779.8" font-size="20" text-anchor="end" font-weight="normal" fill="#000" >0</text>
<text x="52.6" y="729.5" font-size="20" text-anchor="end" font-weight="normal" fill="#000" >5</text>
<text x="52.6" y="679.2" font-size="20" text-anchor="end" font-weight="normal" fill="#000" >10</text>
<text x="52.6" y="628.9" font-size="20" text-anchor="end" font-weight="normal" fill="#000" >15</text>
<text x="61.82" y="1001.6" font-size="20" text-anchor="middle" font-weight="normal" fill="#000" >-40</text>
<text x="144.09" y="1001.6" font-size="20" text-anchor="middle" font-weight="normal" fill="#000" >-30</text>
<text x="226.36" y="1001.6" font-size="20" text-anchor="middle" font-weight="normal" fill="#000" >-20</text>
<text x="308.63" y="1001.6" font-size="20" text-anchor="middle" font-weight="normal" fill="#000" >-10</text>
<text x="390.9" y="1001.6" font-size="20" text-anchor="middle" font-weight="normal" fill="#000" >0</text>
<text x="473.17" y="1001.6" font-size="20" text-anchor="middle" font-weight="normal" fill="#000" >10</text>
<text x="555.44" y="1001.6" font-size="20" text-anchor="middle" font-weight="normal" fill="#000" >20</text>
<text x="637.71" y="1001.6" font-size="20" text-anchor="middle" font-weight="normal" fill="#000" >30</text>
<ellipse cx="391" cy="772.75" rx="268.5" ry="183.15" fill="none" stroke="#b2b2b2" stroke-width="1.6"/>
<text x="14.4" y="566.7" font-size="49.5" text-anchor="start" font-weight="normal" fill="#000" >C</text>
<text x="390.5" y="1025.6" font-size="20" text-anchor="middle" font-weight="normal" fill="#000" >t[1]</text>
<text x="0" y="0" font-size="20" text-anchor="middle" transform="translate(20.3,773) rotate(-90)">t[2]</text>
<polygon points="340.4,722.8 349.4,731.8 340.4,740.8 331.4,731.8" fill="#4152B8" stroke="#0E1C74" stroke-width="1.3"/>
<polygon points="319.5,762.2 328.5,771.2 319.5,780.2 310.5,771.2" fill="#4152B8" stroke="#0E1C74" stroke-width="1.3"/>
<polygon points="330.2,774 339.2,783 330.2,792 321.2,783" fill="#4152B8" stroke="#0E1C74" stroke-width="1.3"/>
<polygon points="368.2,781.8 377.2,790.8 368.2,799.8 359.2,790.8" fill="#4152B8" stroke="#0E1C74" stroke-width="1.3"/>
<polygon points="298.6,785.6 307.6,794.6 298.6,803.6 289.6,794.6" fill="#4152B8" stroke="#0E1C74" stroke-width="1.3"/>
<polygon points="339.2,805.2 348.2,814.2 339.2,823.2 330.2,814.2" fill="#4152B8" stroke="#0E1C74" stroke-width="1.3"/>
<polygon points="247.8,811.8 255.7,825.5 239.9,825.5" fill="#C00000" stroke="#6E0000" stroke-width="1.3" stroke-linejoin="miter"/>
<polygon points="242.5,829.3 250.4,842.7 234.6,842.7" fill="#C00000" stroke="#6E0000" stroke-width="1.3" stroke-linejoin="miter"/>
<polygon points="293.4,804.3 301.3,817.7 285.5,817.7" fill="#C00000" stroke="#6E0000" stroke-width="1.3" stroke-linejoin="miter"/>
<polygon points="287,803.1 294.9,816.7 279.1,816.7" fill="#C00000" stroke="#6E0000" stroke-width="1.3" stroke-linejoin="miter"/>
<polygon points="302.6,809.6 310.5,823.2 294.7,823.2" fill="#C00000" stroke="#6E0000" stroke-width="1.3" stroke-linejoin="miter"/>
<polygon points="338,814.9 345.9,828.6 330.1,828.6" fill="#C00000" stroke="#6E0000" stroke-width="1.3" stroke-linejoin="miter"/>
<path d="M368.1,605.9 Q369.35,610.64 370.8,614.4 Q374.56,615.85 379.3,617.1 Q374.56,618.35 370.8,619.8 Q369.35,623.56 368.1,628.3 Q366.85,623.56 365.4,619.8 Q361.64,618.35 356.9,617.1 Q361.64,615.85 365.4,614.4 Q366.85,610.64 368.1,605.9Z" fill="#FFFF00" stroke="#FF8C00" stroke-width="1.3" stroke-linejoin="round"/>
<path d="M406,628.2 Q407.25,632.94 408.7,636.7 Q412.46,638.15 417.2,639.4 Q412.46,640.65 408.7,642.1 Q407.25,645.86 406,650.6 Q404.75,645.86 403.3,642.1 Q399.54,640.65 394.8,639.4 Q399.54,638.15 403.3,636.7 Q404.75,632.94 406,628.2Z" fill="#FFFF00" stroke="#FF8C00" stroke-width="1.3" stroke-linejoin="round"/>
<path d="M389.2,648.8 Q390.45,653.54 391.9,657.3 Q395.66,658.75 400.4,660 Q395.66,661.25 391.9,662.7 Q390.45,666.46 389.2,671.2 Q387.95,666.46 386.5,662.7 Q382.74,661.25 378,660 Q382.74,658.75 386.5,657.3 Q387.95,653.54 389.2,648.8Z" fill="#FFFF00" stroke="#FF8C00" stroke-width="1.3" stroke-linejoin="round"/>
<path d="M428.3,658.2 Q429.55,662.94 431,666.7 Q434.76,668.15 439.5,669.4 Q434.76,670.65 431,672.1 Q429.55,675.86 428.3,680.6 Q427.05,675.86 425.6,672.1 Q421.84,670.65 417.1,669.4 Q421.84,668.15 425.6,666.7 Q427.05,662.94 428.3,658.2Z" fill="#FFFF00" stroke="#FF8C00" stroke-width="1.3" stroke-linejoin="round"/>
<path d="M437.4,694.5 Q438.65,699.24 440.1,703 Q443.86,704.45 448.6,705.7 Q443.86,706.95 440.1,708.4 Q438.65,712.16 437.4,716.9 Q436.15,712.16 434.7,708.4 Q430.94,706.95 426.2,705.7 Q430.94,704.45 434.7,703 Q436.15,699.24 437.4,694.5Z" fill="#FFFF00" stroke="#FF8C00" stroke-width="1.3" stroke-linejoin="round"/>
<path d="M449.2,705 Q450.45,709.74 451.9,713.5 Q455.66,714.95 460.4,716.2 Q455.66,717.45 451.9,718.9 Q450.45,722.66 449.2,727.4 Q447.95,722.66 446.5,718.9 Q442.74,717.45 438,716.2 Q442.74,714.95 446.5,713.5 Q447.95,709.74 449.2,705Z" fill="#FFFF00" stroke="#FF8C00" stroke-width="1.3" stroke-linejoin="round"/>
<circle cx="497.5" cy="790.7" r="9.1" fill="#00EE00" stroke="#079A07" stroke-width="1.4"/>
<circle cx="494.9" cy="811.7" r="9.1" fill="#00EE00" stroke="#079A07" stroke-width="1.4"/>
<circle cx="543.2" cy="812.8" r="9.1" fill="#00EE00" stroke="#079A07" stroke-width="1.4"/>
<circle cx="532.6" cy="841.9" r="9.1" fill="#00EE00" stroke="#079A07" stroke-width="1.4"/>
<circle cx="548.6" cy="832.5" r="9.1" fill="#00EE00" stroke="#079A07" stroke-width="1.4"/>
<circle cx="579.9" cy="833.9" r="9.1" fill="#00EE00" stroke="#079A07" stroke-width="1.4"/>
<circle cx="685.5" cy="578" r="11.2" fill="#00EE00" stroke="#079A07" stroke-width="1.4"/>
<path d="M685.5,597.8 Q687.03,603.04 688.8,607.1 Q692.86,608.87 698.1,610.4 Q692.86,611.93 688.8,613.7 Q687.03,617.76 685.5,623 Q683.97,617.76 682.2,613.7 Q678.14,611.93 672.9,610.4 Q678.14,608.87 682.2,607.1 Q683.97,603.04 685.5,597.8Z" fill="#FFFF00" stroke="#FF8C00" stroke-width="1.7" stroke-linejoin="round"/>
<polygon points="686.6,632.7 698.2,644.3 686.6,655.9 675,644.3" fill="#4152B8" stroke="#0E1C74" stroke-width="1.3"/>
<polygon points="685.9,665.5 696.4,683 675.4,683" fill="#C00000" stroke="#6E0000" stroke-width="1.4" stroke-linejoin="miter"/>
<text x="707.09" y="586.4" font-size="29" text-anchor="start" font-weight="bold" fill="#000" textLength="97.9" lengthAdjust="spacingAndGlyphs">Control</text>
<text x="707.2" y="620.5" font-size="29" text-anchor="start" font-weight="bold" fill="#000" textLength="84.8" lengthAdjust="spacingAndGlyphs">Model</text>
<text x="707.2" y="658.4" font-size="29" text-anchor="start" font-weight="bold" fill="#000" textLength="66.3" lengthAdjust="spacingAndGlyphs">LZF-L</text>
<text x="707.2" y="693" font-size="29" text-anchor="start" font-weight="bold" fill="#000" textLength="72.7" lengthAdjust="spacingAndGlyphs">LZF-H</text>
<line x1="974.5" y1="550.7" x2="974.5" y2="967.3" stroke="#000" stroke-opacity="0.37" stroke-width="1.5" />
<line x1="880.6" y1="810.9" x2="1536" y2="810.9" stroke="#000" stroke-opacity="0.37" stroke-width="1.5" />
<line x1="880.6" y1="968.1" x2="880.6" y2="568.9" stroke="#000" stroke-opacity="0.4" stroke-width="1.6" />
<line x1="879.8" y1="967.3" x2="1519.9" y2="967.3" stroke="#000" stroke-opacity="0.4" stroke-width="1.6" />
<polygon points="876.2,568.4 885,568.4 880.6,551.6" fill="#888"/>
<polygon points="1519.4,962.9 1519.4,971.7 1536.2,967.3" fill="#888"/>
<line x1="874.1" y1="967.14" x2="879.8" y2="967.14" stroke="#000" stroke-opacity="0.4" stroke-width="1.3" />
<line x1="874.1" y1="915.06" x2="879.8" y2="915.06" stroke="#000" stroke-opacity="0.4" stroke-width="1.3" />
<line x1="874.1" y1="862.98" x2="879.8" y2="862.98" stroke="#000" stroke-opacity="0.4" stroke-width="1.3" />
<line x1="874.1" y1="810.9" x2="879.8" y2="810.9" stroke="#000" stroke-opacity="0.4" stroke-width="1.3" />
<line x1="874.1" y1="758.82" x2="879.8" y2="758.82" stroke="#000" stroke-opacity="0.4" stroke-width="1.3" />
<line x1="874.1" y1="706.74" x2="879.8" y2="706.74" stroke="#000" stroke-opacity="0.4" stroke-width="1.3" />
<line x1="874.1" y1="654.66" x2="879.8" y2="654.66" stroke="#000" stroke-opacity="0.4" stroke-width="1.3" />
<line x1="874.1" y1="602.58" x2="879.8" y2="602.58" stroke="#000" stroke-opacity="0.4" stroke-width="1.3" />
<line x1="876.8" y1="941.1" x2="879.8" y2="941.1" stroke="#000" stroke-opacity="0.4" stroke-width="1.3" />
<line x1="876.8" y1="889.02" x2="879.8" y2="889.02" stroke="#000" stroke-opacity="0.4" stroke-width="1.3" />
<line x1="876.8" y1="836.94" x2="879.8" y2="836.94" stroke="#000" stroke-opacity="0.4" stroke-width="1.3" />
<line x1="876.8" y1="784.86" x2="879.8" y2="784.86" stroke="#000" stroke-opacity="0.4" stroke-width="1.3" />
<line x1="876.8" y1="732.78" x2="879.8" y2="732.78" stroke="#000" stroke-opacity="0.4" stroke-width="1.3" />
<line x1="876.8" y1="680.7" x2="879.8" y2="680.7" stroke="#000" stroke-opacity="0.4" stroke-width="1.3" />
<line x1="876.8" y1="628.62" x2="879.8" y2="628.62" stroke="#000" stroke-opacity="0.4" stroke-width="1.3" />
<line x1="876.8" y1="576.54" x2="879.8" y2="576.54" stroke="#000" stroke-opacity="0.4" stroke-width="1.3" />
<line x1="880.82" y1="968.1" x2="880.82" y2="973.8" stroke="#000" stroke-opacity="0.4" stroke-width="1.3" />
<line x1="974.5" y1="968.1" x2="974.5" y2="973.8" stroke="#000" stroke-opacity="0.4" stroke-width="1.3" />
<line x1="1068.18" y1="968.1" x2="1068.18" y2="973.8" stroke="#000" stroke-opacity="0.4" stroke-width="1.3" />
<line x1="1161.86" y1="968.1" x2="1161.86" y2="973.8" stroke="#000" stroke-opacity="0.4" stroke-width="1.3" />
<line x1="1255.54" y1="968.1" x2="1255.54" y2="973.8" stroke="#000" stroke-opacity="0.4" stroke-width="1.3" />
<line x1="1349.22" y1="968.1" x2="1349.22" y2="973.8" stroke="#000" stroke-opacity="0.4" stroke-width="1.3" />
<line x1="1442.9" y1="968.1" x2="1442.9" y2="973.8" stroke="#000" stroke-opacity="0.4" stroke-width="1.3" />
<line x1="927.66" y1="968.1" x2="927.66" y2="971.1" stroke="#000" stroke-opacity="0.4" stroke-width="1.3" />
<line x1="1021.34" y1="968.1" x2="1021.34" y2="971.1" stroke="#000" stroke-opacity="0.4" stroke-width="1.3" />
<line x1="1115.02" y1="968.1" x2="1115.02" y2="971.1" stroke="#000" stroke-opacity="0.4" stroke-width="1.3" />
<line x1="1208.7" y1="968.1" x2="1208.7" y2="971.1" stroke="#000" stroke-opacity="0.4" stroke-width="1.3" />
<line x1="1302.38" y1="968.1" x2="1302.38" y2="971.1" stroke="#000" stroke-opacity="0.4" stroke-width="1.3" />
<line x1="1396.06" y1="968.1" x2="1396.06" y2="971.1" stroke="#000" stroke-opacity="0.4" stroke-width="1.3" />
<line x1="1489.74" y1="968.1" x2="1489.74" y2="971.1" stroke="#000" stroke-opacity="0.4" stroke-width="1.3" />
<text x="871" y="975.66" font-size="19.5" text-anchor="end" font-weight="normal" fill="#000" >-0.6</text>
<text x="871" y="923.58" font-size="19.5" text-anchor="end" font-weight="normal" fill="#000" >-0.4</text>
<text x="871" y="871.5" font-size="19.5" text-anchor="end" font-weight="normal" fill="#000" >-0.2</text>
<text x="871" y="819.42" font-size="19.5" text-anchor="end" font-weight="normal" fill="#000" >0</text>
<text x="871" y="767.34" font-size="19.5" text-anchor="end" font-weight="normal" fill="#000" >0.2</text>
<text x="871" y="715.26" font-size="19.5" text-anchor="end" font-weight="normal" fill="#000" >0.4</text>
<text x="871" y="663.18" font-size="19.5" text-anchor="end" font-weight="normal" fill="#000" >0.6</text>
<text x="871" y="611.1" font-size="19.5" text-anchor="end" font-weight="normal" fill="#000" >0.8</text>
<text x="880.82" y="999.4" font-size="19.5" text-anchor="middle" font-weight="normal" fill="#000" >-0.2</text>
<text x="974.5" y="999.4" font-size="19.5" text-anchor="middle" font-weight="normal" fill="#000" >0</text>
<text x="1068.18" y="999.4" font-size="19.5" text-anchor="middle" font-weight="normal" fill="#000" >0.2</text>
<text x="1161.86" y="999.4" font-size="19.5" text-anchor="middle" font-weight="normal" fill="#000" >0.4</text>
<text x="1255.54" y="999.4" font-size="19.5" text-anchor="middle" font-weight="normal" fill="#000" >0.6</text>
<text x="1349.22" y="999.4" font-size="19.5" text-anchor="middle" font-weight="normal" fill="#000" >0.8</text>
<text x="1442.9" y="999.4" font-size="19.5" text-anchor="middle" font-weight="normal" fill="#000" >1</text>
<text x="802.4" y="562.9" font-size="48.5" text-anchor="start" font-weight="normal" fill="#000" >D</text>
<line x1="974.5" y1="650.4" x2="1443" y2="583.9" stroke="#000" stroke-width="2.7" stroke-dasharray="7.2 3.1" stroke-dashoffset="3.4"/>
<line x1="974.1" y1="924.8" x2="1443" y2="617.7" stroke="#000" stroke-width="2.7" stroke-dasharray="7.2 3.1" stroke-dashoffset="3.4"/>
<circle cx="1026.45" cy="583.7" r="7.85" fill="#4CB04F" stroke="#287A2B" stroke-width="1.3"/>
<circle cx="1026.45" cy="589.4" r="7.85" fill="#4CB04F" stroke="#287A2B" stroke-width="1.3"/>
<circle cx="1026.45" cy="592" r="7.85" fill="#4CB04F" stroke="#287A2B" stroke-width="1.3"/>
<circle cx="1026.45" cy="599.5" r="7.85" fill="#4CB04F" stroke="#287A2B" stroke-width="1.3"/>
<circle cx="1026.45" cy="607.5" r="7.85" fill="#4CB04F" stroke="#287A2B" stroke-width="1.3"/>
<circle cx="1026.45" cy="619.6" r="7.85" fill="#4CB04F" stroke="#287A2B" stroke-width="1.3"/>
<circle cx="1026.45" cy="628" r="7.85" fill="#4CB04F" stroke="#287A2B" stroke-width="1.3"/>
<circle cx="1026.45" cy="636" r="7.85" fill="#4CB04F" stroke="#287A2B" stroke-width="1.3"/>
<circle cx="1026.45" cy="638.6" r="7.85" fill="#4CB04F" stroke="#287A2B" stroke-width="1.3"/>
<circle cx="1026.45" cy="649" r="7.85" fill="#4CB04F" stroke="#287A2B" stroke-width="1.3"/>
<circle cx="1026.45" cy="659.4" r="7.85" fill="#4CB04F" stroke="#287A2B" stroke-width="1.3"/>
<circle cx="1026.45" cy="667.2" r="7.85" fill="#4CB04F" stroke="#287A2B" stroke-width="1.3"/>
<circle cx="1026.45" cy="676.7" r="7.85" fill="#4CB04F" stroke="#287A2B" stroke-width="1.3"/>
<circle cx="1026.45" cy="685" r="7.85" fill="#4CB04F" stroke="#287A2B" stroke-width="1.3"/>
<circle cx="1026.45" cy="694" r="7.85" fill="#4CB04F" stroke="#287A2B" stroke-width="1.3"/>
<circle cx="1026.45" cy="706" r="7.85" fill="#4CB04F" stroke="#287A2B" stroke-width="1.3"/>
<circle cx="1026.45" cy="719" r="7.85" fill="#4CB04F" stroke="#287A2B" stroke-width="1.3"/>
<circle cx="1026.45" cy="726" r="7.85" fill="#4CB04F" stroke="#287A2B" stroke-width="1.3"/>
<circle cx="1131.1" cy="588.7" r="7.85" fill="#4CB04F" stroke="#287A2B" stroke-width="1.3"/>
<circle cx="1131.1" cy="604.7" r="7.85" fill="#4CB04F" stroke="#287A2B" stroke-width="1.3"/>
<circle cx="1131.1" cy="610.8" r="7.85" fill="#4CB04F" stroke="#287A2B" stroke-width="1.3"/>
<circle cx="1131.1" cy="620" r="7.85" fill="#4CB04F" stroke="#287A2B" stroke-width="1.3"/>
<circle cx="1131.1" cy="631.5" r="7.85" fill="#4CB04F" stroke="#287A2B" stroke-width="1.3"/>
<circle cx="1131.1" cy="638.5" r="7.85" fill="#4CB04F" stroke="#287A2B" stroke-width="1.3"/>
<circle cx="1131.1" cy="645.3" r="7.85" fill="#4CB04F" stroke="#287A2B" stroke-width="1.3"/>
<circle cx="1131.1" cy="653.1" r="7.85" fill="#4CB04F" stroke="#287A2B" stroke-width="1.3"/>
<circle cx="1131.1" cy="664.4" r="7.85" fill="#4CB04F" stroke="#287A2B" stroke-width="1.3"/>
<circle cx="1131.1" cy="673.9" r="7.85" fill="#4CB04F" stroke="#287A2B" stroke-width="1.3"/>
<circle cx="1131.1" cy="683.5" r="7.85" fill="#4CB04F" stroke="#287A2B" stroke-width="1.3"/>
<circle cx="1131.1" cy="715.8" r="7.85" fill="#4CB04F" stroke="#287A2B" stroke-width="1.3"/>
<circle cx="1131.1" cy="731.2" r="7.85" fill="#4CB04F" stroke="#287A2B" stroke-width="1.3"/>
<circle cx="1234.5" cy="617.7" r="7.85" fill="#4CB04F" stroke="#287A2B" stroke-width="1.3"/>
<circle cx="1234.5" cy="675.7" r="7.85" fill="#4CB04F" stroke="#287A2B" stroke-width="1.3"/>
<circle cx="1443" cy="583.9" r="7.85" fill="#4CB04F" stroke="#287A2B" stroke-width="1.3"/>
<rect x="1020.05" y="737.9" width="12.8" height="12.8" fill="#4152B8" stroke="#16237E" stroke-width="1.2"/>
<rect x="1020.05" y="755.2" width="12.8" height="182.7" fill="#4152B8" stroke="#16237E" stroke-width="1.2"/>
<rect x="1020.05" y="755.2" width="12.8" height="12.8" fill="#4152B8" stroke="#16237E" stroke-width="1.2"/>
<rect x="1020.05" y="768.8" width="12.8" height="12.8" fill="#4152B8" stroke="#16237E" stroke-width="1.2"/>
<rect x="1020.05" y="771.9" width="12.8" height="12.8" fill="#4152B8" stroke="#16237E" stroke-width="1.2"/>
<rect x="1020.05" y="781.2" width="12.8" height="12.8" fill="#4152B8" stroke="#16237E" stroke-width="1.2"/>
<rect x="1020.05" y="794.6" width="12.8" height="12.8" fill="#4152B8" stroke="#16237E" stroke-width="1.2"/>
<rect x="1020.05" y="797.7" width="12.8" height="12.8" fill="#4152B8" stroke="#16237E" stroke-width="1.2"/>
<rect x="1020.05" y="804.9" width="12.8" height="12.8" fill="#4152B8" stroke="#16237E" stroke-width="1.2"/>
<rect x="1020.05" y="815.2" width="12.8" height="12.8" fill="#4152B8" stroke="#16237E" stroke-width="1.2"/>
<rect x="1020.05" y="827.6" width="12.8" height="12.8" fill="#4152B8" stroke="#16237E" stroke-width="1.2"/>
<rect x="1020.05" y="840" width="12.8" height="12.8" fill="#4152B8" stroke="#16237E" stroke-width="1.2"/>
<rect x="1020.05" y="843.1" width="12.8" height="12.8" fill="#4152B8" stroke="#16237E" stroke-width="1.2"/>
<rect x="1020.05" y="858.6" width="12.8" height="12.8" fill="#4152B8" stroke="#16237E" stroke-width="1.2"/>
<rect x="1020.05" y="865.8" width="12.8" height="12.8" fill="#4152B8" stroke="#16237E" stroke-width="1.2"/>
<rect x="1020.05" y="877.2" width="12.8" height="12.8" fill="#4152B8" stroke="#16237E" stroke-width="1.2"/>
<rect x="1020.05" y="890.6" width="12.8" height="12.8" fill="#4152B8" stroke="#16237E" stroke-width="1.2"/>
<rect x="1020.05" y="906.1" width="12.8" height="12.8" fill="#4152B8" stroke="#16237E" stroke-width="1.2"/>
<rect x="1020.05" y="909.2" width="12.8" height="12.8" fill="#4152B8" stroke="#16237E" stroke-width="1.2"/>
<rect x="1020.05" y="918.5" width="12.8" height="12.8" fill="#4152B8" stroke="#16237E" stroke-width="1.2"/>
<rect x="1020.05" y="925.1" width="12.8" height="12.8" fill="#4152B8" stroke="#16237E" stroke-width="1.2"/>
<rect x="1124.8" y="766.6" width="12.8" height="12.8" fill="#4152B8" stroke="#16237E" stroke-width="1.2"/>
<rect x="1124.8" y="786.3" width="12.8" height="133" fill="#4152B8" stroke="#16237E" stroke-width="1.2"/>
<rect x="1124.8" y="786.3" width="12.8" height="12.8" fill="#4152B8" stroke="#16237E" stroke-width="1.2"/>
<rect x="1124.8" y="800.8" width="12.8" height="12.8" fill="#4152B8" stroke="#16237E" stroke-width="1.2"/>
<rect x="1124.8" y="814.2" width="12.8" height="12.8" fill="#4152B8" stroke="#16237E" stroke-width="1.2"/>
<rect x="1124.8" y="827.6" width="12.8" height="12.8" fill="#4152B8" stroke="#16237E" stroke-width="1.2"/>
<rect x="1124.8" y="831.8" width="12.8" height="12.8" fill="#4152B8" stroke="#16237E" stroke-width="1.2"/>
<rect x="1124.8" y="847.2" width="12.8" height="12.8" fill="#4152B8" stroke="#16237E" stroke-width="1.2"/>
<rect x="1124.8" y="856.5" width="12.8" height="12.8" fill="#4152B8" stroke="#16237E" stroke-width="1.2"/>
<rect x="1124.8" y="867.9" width="12.8" height="12.8" fill="#4152B8" stroke="#16237E" stroke-width="1.2"/>
<rect x="1124.8" y="876.1" width="12.8" height="12.8" fill="#4152B8" stroke="#16237E" stroke-width="1.2"/>
<rect x="1124.8" y="888.5" width="12.8" height="12.8" fill="#4152B8" stroke="#16237E" stroke-width="1.2"/>
<rect x="1124.8" y="891.6" width="12.8" height="12.8" fill="#4152B8" stroke="#16237E" stroke-width="1.2"/>
<rect x="1124.8" y="906.1" width="12.8" height="12.8" fill="#4152B8" stroke="#16237E" stroke-width="1.2"/>
<rect x="1124.8" y="906.5" width="12.8" height="12.8" fill="#4152B8" stroke="#16237E" stroke-width="1.2"/>
<rect x="1124.8" y="925.3" width="12.8" height="12.8" fill="#4152B8" stroke="#16237E" stroke-width="1.2"/>
<rect x="1228.2" y="781.9" width="12.8" height="12.8" fill="#4152B8" stroke="#16237E" stroke-width="1.2"/>
<rect x="1228.2" y="850.7" width="12.8" height="12.8" fill="#4152B8" stroke="#16237E" stroke-width="1.2"/>
<rect x="1436.6" y="611.3" width="12.8" height="12.8" fill="#4152B8" stroke="#16237E" stroke-width="1.2"/>
<circle cx="1559" cy="552.8" r="8" fill="#4CB04F" stroke="#287A2B" stroke-width="1.1"/>
<rect x="1552.65" y="570.2" width="12.7" height="12.7" fill="#4152B8" stroke="#16237E" stroke-width="1.2"/>
<text x="1572.4" y="557.8" font-size="14.5" text-anchor="start" font-weight="normal" fill="#000" textLength="14.8" lengthAdjust="spacingAndGlyphs">R2</text>
<text x="1571.8" y="581.3" font-size="14.5" text-anchor="start" font-weight="normal" fill="#000" textLength="17.6" lengthAdjust="spacingAndGlyphs">Q2</text>
</svg></body></html>
